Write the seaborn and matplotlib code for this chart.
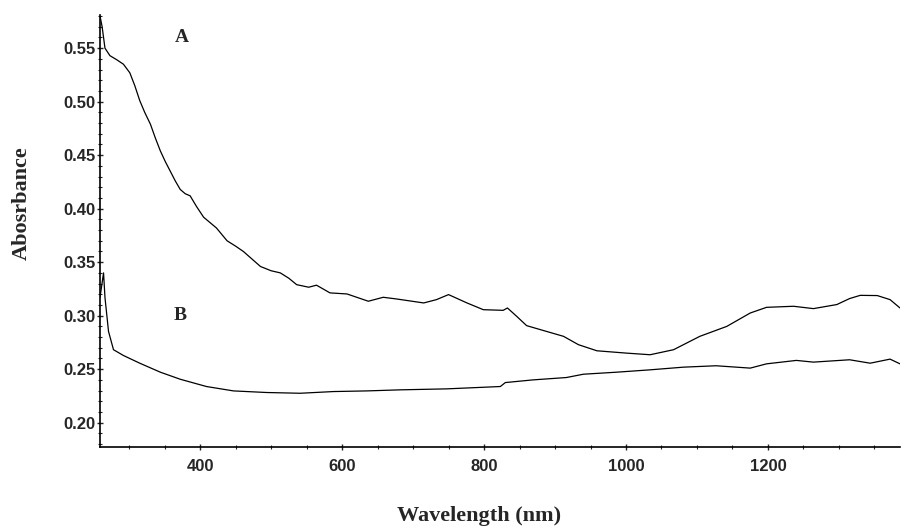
import numpy as np
import pandas as pd
import seaborn as sns
import matplotlib.pyplot as plt
from matplotlib.ticker import MultipleLocator

# Curva A (leída a ojo de la figura)
wl_a = [259, 262, 266, 273, 283, 292, 301, 308, 315, 322, 330, 337, 344, 351, 358,
        365, 372, 379, 386, 395, 405, 414, 423, 438, 450,
        461, 473, 485, 500, 513, 525, 536, 553, 564, 583, 607, 637, 658, 677, 715,
        733, 750, 776, 799, 827, 833, 846, 860, 888, 912, 933, 959, 1001, 1034,
        1067, 1104, 1142, 1175, 1198, 1236, 1264, 1297, 1315, 1330, 1354, 1372, 1386]
abs_a = [0.580, 0.570, 0.550, 0.543, 0.539, 0.535, 0.527, 0.515, 0.501, 0.490, 0.479,
         0.466, 0.454, 0.444, 0.435, 0.426, 0.418, 0.414, 0.412, 0.402, 0.392, 0.387,
         0.382, 0.370, 0.365, 0.360, 0.353, 0.346, 0.342, 0.340, 0.335, 0.329,
         0.3266, 0.3285, 0.3213, 0.3203, 0.3135, 0.3172, 0.3156, 0.3119, 0.3150,
         0.3197, 0.3119, 0.3056, 0.3050, 0.3072, 0.2994, 0.2907, 0.2853, 0.2807,
         0.2729, 0.2672, 0.2650, 0.2635, 0.2682, 0.2807, 0.2900, 0.3025, 0.3078,
         0.3088, 0.3066, 0.3104, 0.3160, 0.3190, 0.3188, 0.3150, 0.3072]

# Curva B
wl_b = [259, 264, 266, 271, 278, 292, 315, 344, 372, 409, 447, 494, 541, 588, 635,
        682, 747, 823, 830, 869, 916, 940, 987, 1034, 1081, 1127, 1175, 1198, 1240,
        1264, 1315, 1344, 1372, 1386]
abs_b = [0.317, 0.340, 0.317, 0.2853, 0.2682, 0.2628, 0.2556, 0.2472, 0.2406, 0.2338,
         0.2297, 0.2282, 0.2275, 0.2291, 0.2297, 0.2307, 0.2316, 0.2338, 0.2375,
         0.2400, 0.2422, 0.2453, 0.2472, 0.2494, 0.2519, 0.2532, 0.2510, 0.2550,
         0.2582, 0.2566, 0.2588, 0.2556, 0.2594, 0.2550]

df = pd.DataFrame({
    "wl": wl_a + wl_b,
    "absorb": abs_a + abs_b,
    "curva": ["A"] * len(wl_a) + ["B"] * len(wl_b),
})

sns.set_style("ticks")
plt.rcParams['font.family'] = ['Liberation Sans', 'DejaVu Sans']

fig = plt.figure(figsize=(9.01, 5.31), dpi=100)
ax = fig.add_axes([100 / 901, 1 - 447.3 / 531, 800 / 901, (447.3 - 15) / 531])

sns.lineplot(data=df, x="wl", y="absorb", units="curva", estimator=None, sort=False,
             color="black", linewidth=0.9, ax=ax)

ax.set_xlim(259, 1386)
ax.set_ylim(0.177, 0.581)
ax.set_xticks([400, 600, 800, 1000, 1200])
ax.set_yticks([0.20, 0.25, 0.30, 0.35, 0.40, 0.45, 0.50, 0.55])
ax.xaxis.set_minor_locator(MultipleLocator(50))
ax.yaxis.set_minor_locator(MultipleLocator(0.01))
ax.yaxis.set_major_formatter(plt.FormatStrFormatter("%.2f"))
ax.tick_params(which="major", direction="inout", length=5, width=1, labelsize=12, pad=1)
ax.tick_params(which="minor", direction="inout", length=3, width=0.8)
for lab in ax.get_xticklabels() + ax.get_yticklabels():
    lab.set_fontweight("bold")
ax.tick_params(axis="x", pad=6)

sns.despine(ax=ax)
for s in ["left", "bottom"]:
    ax.spines[s].set_linewidth(1.2)
    ax.spines[s].set_color("black")

ax.set_xlabel("")
ax.set_ylabel("")
fig.text(479 / 901, 1 - 516 / 531, "Wavelength (nm)", ha="center", va="center",
         fontsize=16, fontweight="bold", family="Liberation Serif")
fig.text(22 / 901, 1 - 203 / 531, "Abosrbance", ha="center", va="center", rotation=90,
         fontsize=16, fontweight="bold", family="Liberation Serif")

fig.text(182 / 901, 1 - 38 / 531, "A", ha="center", va="center", fontsize=14,
         fontweight="bold", family="Liberation Serif")
fig.text(180 / 901, 1 - 316 / 531, "B", ha="center", va="center", fontsize=14,
         fontweight="bold", family="Liberation Serif")

fig.savefig("out.png", dpi=100)
